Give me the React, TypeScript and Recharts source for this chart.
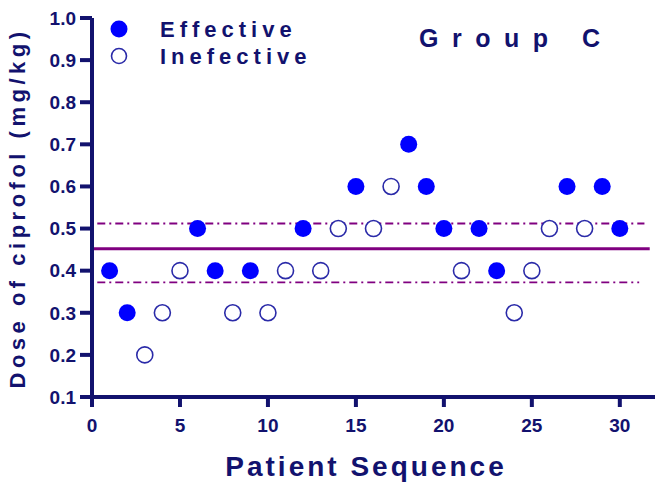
import React from "react";
import {
  ScatterChart,
  Scatter,
  XAxis,
  YAxis,
  ReferenceLine,
} from "recharts";

const effectiveX = [1, 2, 6, 7, 9, 12, 15, 18, 19, 20, 22, 23, 27, 29, 30];
const effectiveY = [0.4, 0.3, 0.5, 0.4, 0.4, 0.5, 0.6, 0.7, 0.6, 0.5, 0.5, 0.4, 0.6, 0.6, 0.5];
const ineffectiveX = [3, 4, 5, 8, 10, 11, 13, 14, 16, 17, 21, 24, 25, 26, 28];
const ineffectiveY = [0.2, 0.3, 0.4, 0.3, 0.3, 0.4, 0.4, 0.5, 0.5, 0.6, 0.4, 0.3, 0.4, 0.5, 0.5];
const xTicks = [0, 5, 10, 15, 20, 25, 30];
const yTicks = [0.1, 0.2, 0.3, 0.4, 0.5, 0.6, 0.7, 0.8, 0.9, 1.0];
const meanDose = 0.452;
const upperCI = 0.512;
const lowerCI = 0.372;

const effective = effectiveX.map((x, i) => ({ x, y: effectiveY[i] }));
const ineffective = ineffectiveX.map((x, i) => ({ x, y: ineffectiveY[i] }));

const NAVY = "#12126e";
const FONT = "Arial, 'Liberation Sans', Helvetica, sans-serif";

const FilledDot = (p: any) => <circle cx={p.cx} cy={p.cy} r={8.5} fill="#0000ff" />;
const OpenDot = (p: any) => (
  <circle cx={p.cx} cy={p.cy} r={8} fill="#ffffff" stroke="#2a2aa8" strokeWidth={1.6} />
);

export default function App() {
  return (
    <div style={{ position: "absolute", left: 0, top: 0, width: 669, height: 492, background: "#fff" }}>
      <ScatterChart
        width={669}
        height={492}
        margin={{ top: 18, right: 14, bottom: 0, left: 0 }}
      >
        <XAxis
          type="number"
          dataKey="x"
          domain={[0, 32]}
          ticks={xTicks}
          allowDataOverflow
          height={95}
          stroke={NAVY}
          strokeWidth={4}
          tickSize={10}
          tickMargin={12}
          tick={{ fill: NAVY, fontSize: 19, fontWeight: "bold", fontFamily: FONT }}
          tickLine={{ stroke: NAVY, strokeWidth: 4 }}
        />
        <YAxis
          type="number"
          dataKey="y"
          domain={[0.1, 1.0]}
          ticks={yTicks}
          allowDataOverflow
          width={92}
          stroke={NAVY}
          strokeWidth={4}
          tickSize={12}
          tickMargin={4}
          tickFormatter={(v: number) => v.toFixed(1)}
          tick={{ fill: NAVY, fontSize: 19, fontWeight: "bold", fontFamily: FONT }}
          tickLine={{ stroke: NAVY, strokeWidth: 4 }}
        />
        <ReferenceLine
          segment={[{ x: 0, y: meanDose }, { x: 31.7, y: meanDose }]}
          stroke="#800080"
          strokeWidth={3}
        />
        <ReferenceLine
          segment={[{ x: 0.3, y: upperCI }, { x: 31.4, y: upperCI }]}
          stroke="#800080"
          strokeWidth={1.8}
          strokeDasharray="8 4 2 4"
        />
        <ReferenceLine
          segment={[{ x: 0.3, y: lowerCI }, { x: 31.1, y: lowerCI }]}
          stroke="#800080"
          strokeWidth={1.8}
          strokeDasharray="8 4 2 4"
        />
        <Scatter data={ineffective} shape={OpenDot} isAnimationActive={false} />
        <Scatter data={effective} shape={FilledDot} isAnimationActive={false} />
      </ScatterChart>
      <svg width={669} height={492} style={{ position: "absolute", left: 0, top: 0, pointerEvents: "none" }}>
        <circle cx={119} cy={29} r={8.5} fill="#0000ff" />
        <circle cx={119} cy={56} r={7.5} fill="#fff" stroke="#2a2aa8" strokeWidth={1.6} />
        <text x={160} y={37} fill={NAVY} fontSize={22} fontWeight="bold" fontFamily={FONT} letterSpacing={5}>Effective</text>
        <text x={160} y={64} fill={NAVY} fontSize={22} fontWeight="bold" fontFamily={FONT} letterSpacing={5}>Inefective</text>
        <text x={419} y={47} fill={NAVY} fontSize={25} fontWeight="bold" fontFamily={FONT} letterSpacing={13.5}>Group C</text>
        <text x={366} y={476} fill={NAVY} fontSize={28} fontWeight="bold" fontFamily={FONT} letterSpacing={3} textAnchor="middle">Patient Sequence</text>
        <text
          transform="translate(25,208) rotate(-90)"
          x={0}
          y={0}
          fill={NAVY}
          fontSize={22}
          fontWeight="bold"
          fontFamily={FONT}
          letterSpacing={4.5}
          textAnchor="middle"
        >Dose of ciprofol (mg/kg)</text>
      </svg>
    </div>
  );
}
